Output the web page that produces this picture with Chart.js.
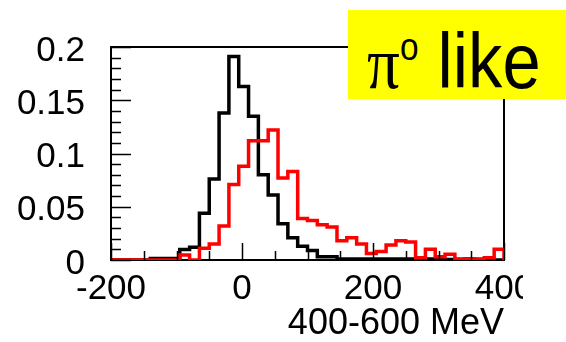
<!DOCTYPE html>
<html>
<head>
<meta charset="utf-8">
<title>pi0 like</title>
<script src="https://cdn.jsdelivr.net/npm/chart.js@4.4.1/dist/chart.umd.min.js"></script>
<style>
    body { margin: 0; background: #fff; }
    #wrap { position: relative; width: 566px; height: 342px; }
    #histChart { position: absolute; left: 0; top: 0; }
    .tag {
        position: absolute; left: 348px; top: 10px;
        width: 218px; height: 89px;
        background: #ffff00; overflow: hidden;
    }
    .tag-text {
        position: absolute; left: 19px; top: 12px;
        transform: scaleX(0.88); transform-origin: left top;
        white-space: nowrap; color: #000;
        font-family: "Liberation Sans", Arial, sans-serif;
        font-size: 78px; line-height: 78px;
    }
    .tag-text .pi { font-family: "Liberation Serif", serif; font-size: 74px; }
    .tag-text .sup { font-size: 38px; position: relative; top: -28px; }
</style>
</head>
<body>
<div id="wrap">
    <canvas id="histChart" width="566" height="342"></canvas>
    <div class="tag"><div class="tag-text"><span class="pi">π</span><span class="sup">o</span> like</div></div>
</div>
<script>
// Binning: 40 bins of 15 MeV starting at -200
const binLow = -200;
const binWidth = 15;

// Normalised bin contents
const blackCounts = [
    0, 0, 0, 0, 0.0015, 0.0015, 0.0015, 0.0098, 0.012, 0.044,
    0.076, 0.138, 0.191, 0.163, 0.135, 0.080, 0.061, 0.034, 0.021, 0.013,
    0.009, 0.003, 0.003, 0.001, 0.001, 0.001, 0.001, 0.001, 0.001, 0.001,
    0.001, 0.0005, 0.001, 0.0005, 0.0005, 0.0005, 0.001, 0.0005, 0.0005, 0
];
const redCounts = [
    0, 0, 0, 0, 0, 0, 0, 0.0046, 0, 0.011,
    0.015, 0.032, 0.071, 0.088, 0.112, 0.112, 0.122, 0.077, 0.083, 0.039,
    0.037, 0.033, 0.031, 0.018, 0.021, 0.015, 0.006, 0.008, 0.014, 0.018,
    0.017, 0.002, 0.010, 0.003, 0.0055, 0.001, 0.001, 0.001, 0.002, 0.010
];

// Axis labels and tick spacing
const xTickValues = [-200, 0, 200, 400];
const yTickValues = [0, 0.05, 0.1, 0.15, 0.2];
const xMinorStep = 50;
const yMinorStep = 0.01;
const xTitle = '400-600 MeV';

// turn bin contents into points at the bin low edges, closed at the last edge
function toSteps(counts) {
    const pts = counts.map((v, i) => ({ x: binLow + i * binWidth, y: v }));
    pts.push({ x: binLow + counts.length * binWidth, y: 0 });
    return pts;
}

// frame around the plot area + inside tick marks like a ROOT pad
const framePlugin = {
    id: 'frame',
    beforeDatasetsDraw(chart) {
        const { ctx, chartArea: a } = chart;
        ctx.save();
        ctx.strokeStyle = '#000';
        ctx.lineWidth = 2;
        ctx.strokeRect(a.left, a.top, a.right - a.left, a.bottom - a.top);
        ctx.restore();
    },
    afterDatasetsDraw(chart) {
        const { ctx, chartArea: a, scales } = chart;
        const xs = scales.x, ys = scales.y;
        ctx.save();
        ctx.strokeStyle = '#000';
        ctx.lineWidth = 1.5;
        ctx.beginPath();
        for (let v = xs.min; v <= xs.max + 1e-9; v += xMinorStep) {
            const px = Math.round(xs.getPixelForValue(v)) + 0.5;
            const len = xTickValues.includes(v) ? 17 : 9;
            ctx.moveTo(px, a.bottom);
            ctx.lineTo(px, a.bottom - len);
        }
        for (let i = 0; i <= Math.round((ys.max - ys.min) / yMinorStep); i++) {
            const v = ys.min + i * yMinorStep;
            const py = Math.round(ys.getPixelForValue(v)) + 0.5;
            const major = i % 5 === 0;
            ctx.moveTo(a.left, py);
            ctx.lineTo(a.left + (major ? 20 : 10), py);
        }
        ctx.stroke();
        ctx.restore();
    },
    afterDraw(chart) {
        // the last x label runs off the pad edge
        const { ctx } = chart;
        ctx.save();
        ctx.fillStyle = '#fff';
        ctx.fillRect(523, 263, 43, 45);
        ctx.restore();
    }
};

Chart.defaults.font.family = '"Liberation Sans", Arial, sans-serif';
Chart.defaults.color = '#000';

const ctx = document.getElementById('histChart').getContext('2d');
new Chart(ctx, {
    type: 'line',
    data: {
        datasets: [
            {
                label: 'red',
                data: toSteps(redCounts),
                borderColor: '#ff0000',
                borderWidth: 3.5,
                stepped: 'before',
                pointRadius: 0,
                fill: false,
                order: 0
            },
            {
                label: 'black',
                data: toSteps(blackCounts),
                borderColor: '#000000',
                borderWidth: 3.5,
                stepped: 'before',
                pointRadius: 0,
                fill: false,
                order: 1
            }
        ]
    },
    options: {
        responsive: false,
        animation: false,
        layout: { padding: { left: 0, top: 41, right: 62, bottom: 0 } },
        plugins: {
            legend: { display: false },
            tooltip: { enabled: false }
        },
        scales: {
            x: {
                type: 'linear',
                min: -200,
                max: 400,
                grid: { display: false, drawTicks: false },
                border: { display: false },
                afterBuildTicks: scale => { scale.ticks = xTickValues.map(v => ({ value: v })); },
                afterFit: scale => { scale.height = 82; },
                ticks: {
                    font: { size: 35 },
                    padding: 8,
                    maxRotation: 0,
                    autoSkip: false,
                    callback: v => String(v)
                },
                title: {
                    display: true,
                    text: xTitle,
                    align: 'end',
                    font: { size: 36, lineHeight: 1 },
                    padding: 0
                }
            },
            y: {
                min: 0,
                max: 0.2,
                grid: { display: false, drawTicks: false },
                border: { display: false },
                afterBuildTicks: scale => { scale.ticks = yTickValues.map(v => ({ value: v })); },
                afterFit: scale => { scale.width = 111; },
                ticks: {
                    font: { size: 35 },
                    padding: 26,
                    labelOffset: 4,
                    autoSkip: false,
                    callback: v => String(v)
                }
            }
        }
    },
    plugins: [framePlugin]
});
</script>
</body>
</html>
